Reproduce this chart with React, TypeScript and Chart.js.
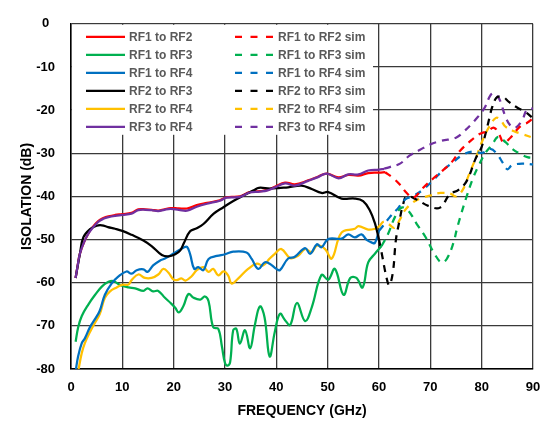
import React, { useEffect, useRef } from "react";
import { Chart, registerables } from "chart.js";
Chart.register(...registerables);

// ---- X axis ticks / ranges
const xTicks = [0, 10, 20, 30, 40, 50, 60, 70, 80, 90];
const yTicks = [0, -10, -20, -30, -40, -50, -60, -70, -80];

// ---- Measured series (GHz / dB)
const rf12F = [0.9, 1.3, 1.75, 2.7, 3.4, 4.0, 5.3, 6.3, 7.3, 8.6, 10, 11.8, 13.1, 14.5, 15.7, 17, 18.2, 19.4, 21, 22.6, 24.5, 26.5, 29, 30.3, 32.9, 34.8, 36.8, 38.3, 39.7, 41.7, 43.6, 46.2, 48, 49.8, 52.1, 54, 56, 57.9, 60, 61.2];
const rf12V = [-58.9, -56.0, -53.2, -50.2, -48.6, -47.4, -45.7, -45.0, -44.6, -44.3, -44.1, -43.8, -43.0, -43.0, -43.1, -43.3, -43.0, -42.7, -42.8, -42.8, -42.0, -41.5, -40.9, -40.2, -40.0, -39.0, -38.8, -38.5, -37.8, -36.8, -37.2, -36.3, -35.5, -34.7, -35.6, -35.0, -35.2, -34.6, -34.5, -34.4];

const rf13F = [0.9, 1.4, 2.1, 3.4, 4.7, 6.0, 7.3, 8.2, 9.5, 11.2, 12.5, 14.1, 14.9, 16.0, 17.0, 18.3, 19.4, 20.3, 21.0, 21.9, 22.9, 23.9, 25.2, 26.1, 26.8, 27.7, 28.7, 29.4, 30.0, 30.5, 31.0, 31.6, 32.2, 32.9, 33.9, 34.9, 35.8, 36.8, 37.7, 38.7, 39.7, 40.7, 41.7, 42.7, 44.0, 45.6, 46.9, 48.8, 50.1, 51.4, 53.1, 54.4, 55.6, 56.8, 57.9, 59.2, 60.5];
const rf13V = [-73.7, -70.3, -67.7, -65.0, -62.8, -60.9, -59.8, -59.6, -60.5, -61.1, -61.3, -61.9, -61.3, -62.0, -61.9, -63.5, -64.7, -65.8, -66.9, -65.4, -62.6, -63.5, -63.9, -63.2, -64.3, -70.3, -70.7, -74.8, -78.6, -79.2, -78.4, -71.0, -70.7, -74.1, -71.0, -75.2, -69.9, -65.5, -68.0, -77.1, -71.4, -67.2, -68.7, -69.8, -64.7, -68.9, -65.7, -58.2, -59.3, -56.8, -62.8, -58.9, -58.9, -61.1, -55.3, -53.3, -51.5];

const rf14F = [0.9, 1.4, 2.1, 2.7, 3.7, 4.7, 5.6, 6.6, 7.9, 9.2, 10.8, 11.8, 12.8, 14.1, 14.9, 16.0, 17.3, 18.3, 20.3, 21.9, 22.6, 23.2, 24.0, 24.8, 25.8, 26.8, 28.4, 30.0, 31.6, 34.2, 35.2, 36.5, 37.7, 38.7, 40.0, 40.7, 42.3, 43.6, 45.6, 46.6, 47.9, 48.8, 50.1, 52.7, 54.0, 55.3, 56.6, 57.6, 58.6, 59.2, 60.0];
const rf14V = [-80.5, -77.0, -74.0, -72.9, -70.3, -68.4, -66.5, -62.8, -60.2, -58.6, -57.4, -57.9, -57.1, -56.9, -57.5, -56.0, -54.9, -54.4, -53.0, -51.9, -51.7, -53.4, -56.8, -56.4, -57.1, -54.5, -53.8, -53.4, -52.8, -53.0, -54.5, -56.8, -55.3, -55.6, -56.8, -57.1, -54.4, -54.0, -52.0, -53.3, -51.1, -51.8, -49.9, -49.8, -48.8, -49.5, -48.8, -50.1, -50.7, -50.8, -48.0];

const rf23F = [0.9, 1.75, 2.4, 3.7, 5.0, 6.0, 7.2, 8.6, 10, 11.8, 14.1, 15.7, 17.7, 19.0, 20.3, 21.3, 22.0, 23.2, 24.5, 25.8, 27.8, 29.7, 31.7, 33.6, 35.6, 36.6, 38.8, 40.8, 42.3, 44.9, 46.9, 48.8, 50.1, 52.7, 55.3, 56.9, 58.2, 59.2, 60.0];
const rf23V = [-58.9, -53.2, -49.5, -47.6, -46.8, -46.7, -47.1, -47.5, -48.0, -48.9, -50.2, -51.5, -53.6, -53.9, -53.4, -52.5, -50.8, -48.1, -47.4, -46.4, -44.0, -42.5, -41.0, -39.8, -38.6, -38.0, -38.2, -38.0, -37.9, -37.5, -38.3, -39.2, -39.0, -40.5, -40.5, -41.1, -43.2, -46.2, -50.0];

const rf24F = [1.4, 2.1, 2.7, 3.7, 4.7, 5.6, 6.6, 7.6, 8.9, 9.9, 11.2, 11.8, 13.1, 14.4, 15.7, 17.0, 18.0, 19.0, 19.9, 20.6, 21.5, 22.3, 23.5, 24.5, 25.8, 26.8, 27.7, 28.7, 29.7, 30.6, 31.3, 32.6, 34.5, 36.2, 37.4, 38.7, 39.7, 41.0, 42.7, 44.3, 45.6, 46.9, 47.9, 49.5, 50.8, 52.7, 55.3, 56.0, 57.9, 59.2, 60.0];
const rf24V = [-80.5, -76.3, -74.0, -71.4, -69.2, -67.3, -63.5, -62.0, -61.1, -60.5, -60.4, -59.4, -58.1, -58.9, -58.9, -58.1, -56.8, -57.7, -59.2, -59.4, -59.0, -59.5, -58.5, -57.1, -56.4, -57.5, -56.8, -58.3, -57.4, -58.3, -60.2, -59.0, -56.8, -55.6, -56.0, -54.4, -53.3, -52.2, -54.3, -53.7, -52.2, -52.9, -51.4, -52.2, -54.4, -48.4, -47.5, -46.9, -47.7, -47.5, -47.0];

const rf34F = [0.9, 1.3, 1.75, 2.7, 3.4, 4.0, 5.3, 6.3, 7.3, 8.6, 10, 11.8, 13.1, 14.5, 15.7, 17, 18.2, 19.4, 21, 22.6, 24.5, 26.5, 29, 30.3, 32.9, 34.8, 36.8, 38.3, 39.7, 41.7, 43.6, 46.2, 48, 49.8, 52.1, 54, 56, 57.9, 60, 61];
const rf34V = [-58.9, -56.0, -53.2, -50.2, -48.6, -47.6, -45.9, -45.2, -44.8, -44.5, -44.3, -44.0, -43.2, -43.1, -43.2, -43.4, -43.1, -42.9, -43.1, -43.3, -42.4, -41.7, -41.0, -40.3, -40.1, -39.1, -38.9, -38.6, -37.9, -37.0, -37.5, -36.4, -35.6, -34.7, -35.8, -34.9, -34.9, -34.0, -33.8, -33.6];

// ---- Simulated series
const rf12sF = [61.2, 62.8, 64.1, 65.4, 66.7, 68.6, 70.6, 72.5, 74.2, 75.8, 77.5, 79.5, 81.1, 82.4, 83.4, 84.3, 85.6, 86.6, 87.9, 88.8, 90];
const rf12sV = [-34.4, -35.8, -37.3, -39.2, -40.3, -38.0, -35.8, -33.9, -32.0, -29.4, -27.5, -25.6, -24.9, -24.1, -25.6, -27.5, -26.4, -24.9, -23.4, -23.0, -21.9];

const rf13sF = [60.5, 61.8, 63.1, 64.4, 65.7, 67.3, 69.0, 70.9, 72.2, 73.2, 74.5, 75.1, 76.0, 77.0, 78.3, 79.6, 80.8, 82.1, 83.2, 84.7, 86.0, 87.6, 88.9, 90];
const rf13sV = [-51.5, -48.6, -44.8, -42.6, -43.3, -46.3, -49.3, -53.5, -55.3, -54.5, -50.8, -47.9, -44.1, -40.3, -35.8, -32.4, -29.8, -27.9, -26.2, -27.5, -29.0, -30.2, -30.9, -31.1];

const rf14sF = [60.0, 60.8, 62.1, 63.8, 65.1, 66.7, 68.6, 70.6, 72.5, 74.5, 76.3, 78.2, 80.1, 81.7, 83.0, 84.0, 85.0, 85.9, 87.9, 90];
const rf14sV = [-48.0, -46.8, -44.8, -42.6, -40.7, -39.9, -38.4, -36.2, -33.9, -32.0, -30.4, -29.6, -29.9, -29.0, -30.2, -32.0, -33.7, -32.8, -32.4, -32.6];

const rf23sF = [60.0, 60.5, 61.5, 62.0, 62.7, 63.3, 64.0, 64.7, 65.4, 67.3, 69.6, 71.9, 73.8, 75.5, 77.1, 78.8, 80.0, 81.1, 82.0, 82.8, 83.5, 84.3, 85.3, 86.9, 88.5, 90];
const rf23sV = [-50.0, -53.0, -59.0, -60.6, -57.6, -50.0, -45.6, -41.8, -40.0, -40.7, -42.2, -42.6, -39.5, -38.5, -36.4, -31.3, -28.5, -23.8, -19.5, -17.2, -16.8, -17.0, -18.1, -19.4, -20.4, -21.9];

const rf24sF = [60.0, 61.0, 62.0, 63.0, 64.0, 65.0, 66.5, 68.0, 70.0, 72.0, 74.0, 75.0, 76.3, 77.5, 78.8, 80.0, 81.4, 82.8, 83.7, 84.6, 86.3, 88.0, 90];
const rf24sV = [-47.0, -45.8, -46.5, -47.3, -45.5, -43.3, -41.5, -40.5, -39.8, -39.2, -39.4, -40.0, -38.5, -35.0, -31.3, -27.5, -24.0, -21.8, -22.3, -23.8, -24.9, -25.6, -26.4];

const rf34sF = [61.0, 62.1, 64.1, 66.0, 68.0, 69.9, 72.2, 75.0, 76.6, 78.5, 80.5, 81.7, 82.4, 83.1, 83.7, 84.5, 85.6, 86.6, 87.9, 88.8, 90];
const rf34sV = [-33.6, -33.2, -32.4, -30.5, -29.2, -28.0, -27.1, -26.4, -24.9, -22.6, -19.6, -16.6, -16.1, -16.8, -18.1, -21.1, -23.6, -24.1, -22.3, -20.0, -19.6];

const labels = ["RF1 to RF2", "RF1 to RF3", "RF1 to RF4", "RF2 to RF3", "RF2 to RF4", "RF3 to RF4"];
const colors = ["#FF0000", "#00B050", "#0070C0", "#000000", "#FFC000", "#7030A0"];
const measured = [[rf12F, rf12V], [rf13F, rf13V], [rf14F, rf14V], [rf23F, rf23V], [rf24F, rf24V], [rf34F, rf34V]];
const simulated = [[rf12sF, rf12sV], [rf13sF, rf13sV], [rf14sF, rf14sV], [rf23sF, rf23sV], [rf24sF, rf24sV], [rf34sF, rf34sV]];
// draw order (lower = on top)
const measOrder = [3, 6, 4, 2, 5, 1];

const zip = (f: number[], v: number[]) => {
  const n = Math.min(f.length, v.length);
  const out: { x: number; y: number }[] = [];
  for (let i = 0; i < n; i++) out.push({ x: f[i], y: v[i] });
  return out;
};

const LEGEND_FONT = "bold 12px 'Liberation Sans', Arial, sans-serif";
const DASH = [7, 6];

const boxLegend = {
  id: "boxLegend",
  beforeDatasetsDraw(chart: any) {
    const { ctx, chartArea: a } = chart;
    ctx.save();
    ctx.fillStyle = "#ffffff";
    ctx.fillRect(a.left + 1, a.top + 1, 301, 110);
    const ds = chart.data.datasets;
    ctx.font = LEGEND_FONT;
    ctx.textBaseline = "middle";
    ctx.textAlign = "left";
    ds.forEach((d: any, i: number) => {
      const col = i < 6 ? 0 : 1;
      const row = i % 6;
      const y = a.top + 13 + row * 18;
      const x0 = a.left + (col === 0 ? 15 : 164);
      ctx.strokeStyle = d.borderColor;
      ctx.lineWidth = 2.25;
      ctx.setLineDash(col === 0 ? [] : [7, 8.5]);
      ctx.beginPath();
      ctx.moveTo(x0, y);
      ctx.lineTo(x0 + 39, y);
      ctx.stroke();
      ctx.setLineDash([]);
      ctx.fillStyle = "#595959";
      ctx.fillText(d.label, x0 + 43, y + 0.5);
    });
    ctx.restore();
  },
};

export default function App() {
  const ref = useRef<HTMLCanvasElement | null>(null);
  useEffect(() => {
    if (!ref.current) return;
    const datasets: any[] = [];
    measured.forEach(([f, v], i) => {
      datasets.push({
        label: labels[i],
        data: zip(f, v),
        borderColor: colors[i],
        backgroundColor: colors[i],
        borderWidth: 2.25,
        pointRadius: 0,
        tension: 0.4,
        order: measOrder[i],
      });
    });
    simulated.forEach(([f, v], i) => {
      datasets.push({
        label: labels[i] + " sim",
        data: zip(f, v),
        borderColor: colors[i],
        backgroundColor: colors[i],
        borderWidth: 2.25,
        borderDash: DASH,
        pointRadius: 0,
        tension: 0.4,
        order: 7 + i,
      });
    });
    const tickFont = { family: "'Liberation Sans', Arial, sans-serif", size: 13, weight: "bold" as const };
    const titleFont = { family: "'Liberation Sans', Arial, sans-serif", size: 14, weight: "bold" as const };
    const chart = new Chart(ref.current, {
      type: "line",
      data: { datasets },
      plugins: [boxLegend],
      options: {
        animation: false,
        responsive: false,
        layout: { padding: { top: 15, right: 20, left: 0, bottom: 0 } },
        plugins: { legend: { display: false }, tooltip: { enabled: false } },
        scales: {
          x: {
            type: "linear",
            min: xTicks[0],
            max: xTicks[xTicks.length - 1],
            afterBuildTicks: (s: any) => { s.ticks = xTicks.map((v) => ({ value: v })); },
            afterFit: (s: any) => { s.height = 54; },
            grid: { color: "#3a3a3a", lineWidth: 1.3, drawTicks: false },
            border: { color: "#000000", width: 1.5 },
            ticks: { color: "#000000", font: tickFont, padding: 11, maxRotation: 0 },
            title: { display: true, text: "FREQUENCY (GHz)", color: "#000000", font: titleFont, padding: { top: 0, bottom: 3 } },
          },
          y: {
            type: "linear",
            min: -80,
            max: 0,
            afterBuildTicks: (s: any) => { s.ticks = yTicks.map((v) => ({ value: v })); },
            afterFit: (s: any) => { s.width = 71; },
            grid: { color: "#3a3a3a", lineWidth: 1.3, drawTicks: false },
            border: { color: "#000000", width: 1.5 },
            ticks: { color: "#000000", font: tickFont, padding: 16, crossAlign: "center" },
            title: { display: true, text: "ISOLATION (dB)", color: "#000000", font: titleFont, padding: { top: 19, bottom: 0 } },
          },
        },
      } as any,
    });
    return () => chart.destroy();
  }, []);
  return (
    <div style={{ position: "fixed", left: 0, top: 0, width: 553, height: 423, background: "#ffffff" }}>
      <canvas ref={ref} width={553} height={423} />
    </div>
  );
}
